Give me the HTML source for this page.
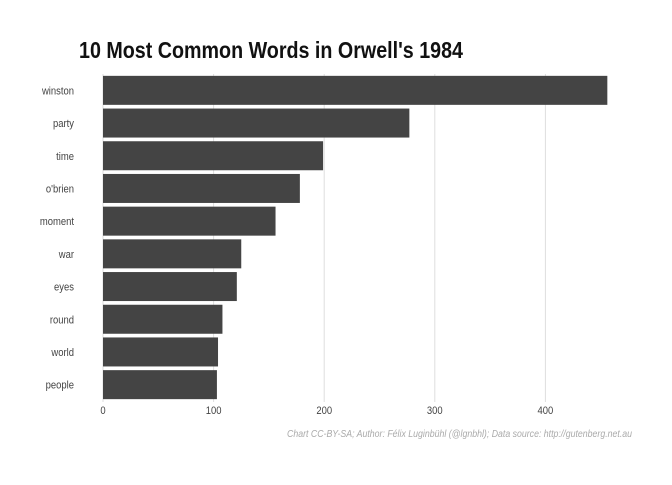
<!DOCTYPE html>
<html><head><meta charset="utf-8"><style>
body{margin:0;background:#fff;}
svg text{font-family:"Liberation Sans Narrow","Liberation Sans",sans-serif;}
</style></head><body>
<svg id="chart" width="672" height="480">
<rect width="672" height="480" fill="#fff"/>
<text x="79" y="58" font-size="23" font-weight="bold" fill="#111" textLength="384" lengthAdjust="spacingAndGlyphs">10 Most Common Words in Orwell's 1984</text>
<g id="grid"></g><g id="bars"></g><g id="ylabels"></g><g id="xlabels"></g>
<text x="287" y="437" font-size="10" font-style="italic" fill="#aaa" textLength="345" lengthAdjust="spacingAndGlyphs">Chart CC-BY-SA; Author: Félix Luginbühl (@lgnbhl); Data source: http://gutenberg.net.au</text>
</svg>
<script>
const words=["winston","party","time","o'brien","moment","war","eyes","round","world","people"];
const counts=[456,277,199,178,156,125,121,108,104,103];
const ticks=[0,100,200,300,400];
const ns="http://www.w3.org/2000/svg";
const x=v=>103+v*1.106;
const y0=74,step=32.7,bh=29;
const yc=i=>y0+step*i+step/2;
function mk(t,a,p){const e=document.createElementNS(ns,t);for(const k in a)e.setAttribute(k,a[k]);document.getElementById(p).appendChild(e);return e;}
ticks.forEach(t=>{
 const g=mk('line',{x1:x(t),x2:x(t),y1:y0,y2:402,stroke:'#dedede','stroke-width':1},'grid');
 
 
 const l=mk('text',{transform:`translate(${x(t)},414) scale(0.86,1)`,'text-anchor':'middle','font-size':11,fill:'#444'},'xlabels');
 l.textContent=t;
 
 
});
words.forEach((w,i)=>{
 const r=mk('rect',{x:x(0),y:yc(i)-bh/2,width:x(counts[i])-x(0),height:bh,fill:'#444'},'bars');
 
 
 const l=mk('text',{transform:`translate(74,${yc(i)+4}) scale(0.86,1)`,'text-anchor':'end','font-size':11,fill:'#444'},'ylabels');
 l.textContent=w;
 
 
});
</script>
</body></html>
